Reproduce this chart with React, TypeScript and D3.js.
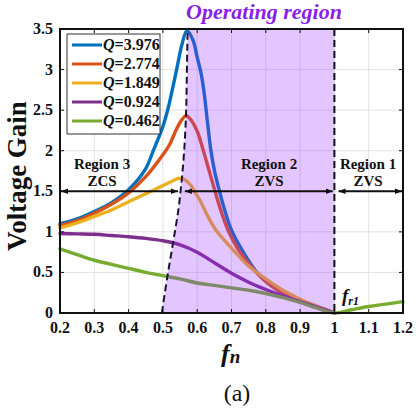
import * as d3 from 'd3';

// axis ticks
const xTicks = [0.2, 0.3, 0.4, 0.5, 0.6, 0.7, 0.8, 0.9, 1.0, 1.1, 1.2];
const xTickLabels = ['0.2', '0.3', '0.4', '0.5', '0.6', '0.7', '0.8', '0.9', '1', '1.1', '1.2'];
const yTicks = [0, 0.5, 1, 1.5, 2, 2.5, 3, 3.5];
const yTickLabels = ['0', '0.5', '1', '1.5', '2', '2.5', '3', '3.5'];

// series: [fn, gain]
const qValues = ['3.976', '2.774', '1.849', '0.924', '0.462'];
const qColors = ['#0072bd', '#d95319', '#edb120', '#7e2f8e', '#77ac30'];

const gainQ3976: [number, number][] = [
  [0.2, 1.1], [0.25, 1.16], [0.3, 1.25], [0.35, 1.36], [0.4, 1.52], [0.45, 1.78], [0.47, 1.98],
  [0.5, 2.3], [0.515, 2.52], [0.54, 3.0], [0.555, 3.3], [0.57, 3.48], [0.588, 3.36], [0.6, 3.15],
  [0.61, 2.98], [0.62, 2.72], [0.63, 2.35], [0.64, 2.0], [0.652, 1.72], [0.665, 1.5], [0.68, 1.27],
  [0.7, 1.02], [0.73, 0.78], [0.77, 0.52], [0.8, 0.39], [0.84, 0.27], [0.9, 0.16], [0.95, 0.08], [1.0, 0],
];
const gainQ2774: [number, number][] = [
  [0.2, 1.08], [0.25, 1.14], [0.3, 1.23], [0.35, 1.34], [0.4, 1.48], [0.45, 1.68], [0.5, 1.95],
  [0.52, 2.08], [0.54, 2.27], [0.555, 2.38], [0.567, 2.43], [0.58, 2.39], [0.6, 2.24], [0.618, 2.0],
  [0.635, 1.75], [0.652, 1.5], [0.67, 1.25], [0.69, 1.02], [0.72, 0.78], [0.77, 0.51], [0.8, 0.39],
  [0.84, 0.27], [0.9, 0.16], [0.95, 0.08], [1.0, 0],
];
const gainQ1849: [number, number][] = [
  [0.2, 1.05], [0.25, 1.11], [0.3, 1.19], [0.35, 1.27], [0.4, 1.37], [0.45, 1.47], [0.5, 1.57],
  [0.525, 1.62], [0.548, 1.66], [0.565, 1.64], [0.58, 1.58], [0.592, 1.5], [0.608, 1.39], [0.63, 1.2],
  [0.655, 1.02], [0.7, 0.8], [0.75, 0.58], [0.8, 0.42], [0.85, 0.28], [0.9, 0.17], [0.95, 0.08], [1.0, 0],
];
const gainQ0924: [number, number][] = [
  [0.2, 0.98], [0.25, 0.975], [0.3, 0.97], [0.35, 0.955], [0.4, 0.94], [0.45, 0.92], [0.5, 0.89],
  [0.55, 0.84], [0.6, 0.75], [0.65, 0.62], [0.7, 0.49], [0.75, 0.38], [0.8, 0.29], [0.85, 0.21],
  [0.9, 0.14], [0.95, 0.07], [1.0, 0],
];
const gainQ0462: [number, number][] = [
  [0.2, 0.79], [0.25, 0.72], [0.3, 0.65], [0.35, 0.6], [0.4, 0.55], [0.45, 0.5], [0.5, 0.46],
  [0.55, 0.42], [0.6, 0.37], [0.65, 0.34], [0.7, 0.31], [0.75, 0.28], [0.8, 0.24], [0.85, 0.19],
  [0.9, 0.13], [0.95, 0.06], [1.0, 0], [1.05, 0.04], [1.1, 0.08], [1.15, 0.11], [1.2, 0.14],
];
const series = [gainQ3976, gainQ2774, gainQ1849, gainQ0924, gainQ0462];

// left edge of the operating region (dashed)
const boundary: [number, number][] = [
  [0.497, 0], [0.515, 0.5], [0.531, 0.9], [0.546, 1.3], [0.554, 1.6], [0.562, 2.0],
  [0.567, 2.4], [0.57, 3.0], [0.572, 3.5],
];

const FONT = "'Liberation Serif', 'DejaVu Serif', 'Times New Roman', Times, serif";

export default function App() {
  const width = 416;
  const height = 415;
  const x = d3.scaleLinear().domain([0.2, 1.2]).range([60, 403]);
  const y = d3.scaleLinear().domain([0, 3.5]).range([313, 29]);

  const line = d3.line<[number, number]>()
    .x((d) => x(d[0]))
    .y((d) => y(d[1]))
    .curve(d3.curveCatmullRom.alpha(0.5));
  const edge = d3.line<[number, number]>()
    .x((d) => x(d[0]))
    .y((d) => y(d[1]))
    .curve(d3.curveMonotoneY);

  const shadePts: [number, number][] = [...boundary, [1, 3.5], [1, 0]];
  const shade = d3.line<[number, number]>().x((d) => x(d[0])).y((d) => y(d[1]))(shadePts) + 'Z';

  const arrowY = y(1.5);
  const [x0, x1] = x.range();
  const [y0, y1] = y.range();
  const txt = { fontFamily: FONT };

  return (
    <svg width={width} height={height} style={{ position: 'absolute', left: 0, top: 0, background: '#fff' }}>
      <defs>
        <marker id="ah" viewBox="0 0 10 10" refX="10" refY="5" markerWidth="7" markerHeight="7"
          orient="auto-start-reverse" markerUnits="userSpaceOnUse">
          <path d="M0,1 L10,5 L0,9 Z" fill="#111" />
        </marker>
      </defs>

      {/* grid */}
      <g stroke="#e3e3e3" strokeWidth={1}>
        {xTicks.slice(1, -1).map((t) => <line key={'gx' + t} x1={x(t)} x2={x(t)} y1={y1} y2={y0} />)}
        {yTicks.slice(1, -1).map((t) => <line key={'gy' + t} x1={x0} x2={x1} y1={y(t)} y2={y(t)} />)}
      </g>

      {/* curves */}
      <g fill="none" strokeWidth={3.4} strokeLinecap="round">
        {series.map((s, i) => <path key={i} d={line(s) || ''} stroke={qColors[i]} />)}
      </g>

      {/* operating region overlay */}
      <path d={shade} fill="#9b30ff" fillOpacity={0.28} />

      {/* boundary dashed lines */}
      <path d={edge(boundary) || ''} fill="none" stroke="#1c1236" strokeWidth={2} strokeDasharray="7,4" />
      <line x1={x(1)} x2={x(1)} y1={y1} y2={y0} stroke="#111" strokeWidth={2} strokeDasharray="7,4" />

      {/* region arrows */}
      <g stroke="#111" strokeWidth={2}>
        <line x1={x0 + 1} x2={x(0.544)} y1={arrowY} y2={arrowY} markerStart="url(#ah)" markerEnd="url(#ah)" />
        <line x1={x(0.564)} x2={x(0.995)} y1={arrowY} y2={arrowY} markerStart="url(#ah)" markerEnd="url(#ah)" />
        <line x1={x(1.012)} x2={x1 - 1} y1={arrowY} y2={arrowY} markerStart="url(#ah)" markerEnd="url(#ah)" />
      </g>
      <g style={txt} fontWeight="bold" fontSize={15} textAnchor="middle" fill="#111">
        <text x={102} y={169}>Region 3</text>
        <text x={102} y={186}>ZCS</text>
        <text x={269} y={169}>Region 2</text>
        <text x={269} y={186}>ZVS</text>
        <text x={368} y={169}>Region 1</text>
        <text x={368} y={186}>ZVS</text>
      </g>

      {/* f_r1 */}
      <text x={342} y={302} style={txt} fontWeight="bold" fontStyle="italic" fontSize={19} fill="#111">
        f<tspan fontSize={12} dy={3}>r1</tspan>
      </text>

      {/* axis box and ticks */}
      <rect x={x0} y={y1} width={x1 - x0} height={y0 - y1} fill="none" stroke="#111" strokeWidth={2} />
      <g stroke="#111" strokeWidth={1}>
        {xTicks.map((t) => (
          <g key={'tx' + t}>
            <line x1={x(t)} x2={x(t)} y1={y0} y2={y0 - 4} />
            <line x1={x(t)} x2={x(t)} y1={y1} y2={y1 + 4} />
          </g>
        ))}
        {yTicks.map((t) => (
          <g key={'ty' + t}>
            <line x1={x0} x2={x0 + 4} y1={y(t)} y2={y(t)} />
            <line x1={x1} x2={x1 - 4} y1={y(t)} y2={y(t)} />
          </g>
        ))}
      </g>
      <g style={txt} fontWeight="bold" fontSize={16} fill="#111">
        {xTicks.map((t, i) => (
          <text key={'lx' + t} x={x(t)} y={y0 + 20} textAnchor="middle">{xTickLabels[i]}</text>
        ))}
        {yTicks.map((t, i) => (
          <text key={'ly' + t} x={x0 - 7} y={y(t) + 5} textAnchor="end">{yTickLabels[i]}</text>
        ))}
      </g>

      {/* legend */}
      <rect x={67} y={34} width={93} height={100} fill="#fff" stroke="#333" strokeWidth={1} />
      {qValues.map((q, i) => (
        <g key={'lg' + q}>
          <line x1={72} x2={102} y1={45 + i * 19} y2={45 + i * 19} stroke={qColors[i]} strokeWidth={3} />
          <text x={103} y={50 + i * 19} style={txt} fontWeight="bold" fontSize={16} fill="#111">
            <tspan fontStyle="italic">Q</tspan>={q}
          </text>
        </g>
      ))}

      {/* titles */}
      <text x={264} y={19} textAnchor="middle" style={txt} fontWeight="bold" fontStyle="italic"
        fontSize={22} fill="#8a1fe6">Operating region</text>
      <text transform="translate(26,176) rotate(-90)" textAnchor="middle" style={txt}
        fontWeight="bold" fontSize={27} fill="#111">Voltage Gain</text>
      <text x={221} y={362} style={txt} fontWeight="bold" fontStyle="italic" fontSize={26} fill="#111">
        f<tspan fontSize={19} dy={1}>n</tspan>
      </text>
      <text x={237} y={401} textAnchor="middle" style={txt} fontSize={24} fill="#111">(a)</text>
    </svg>
  );
}
